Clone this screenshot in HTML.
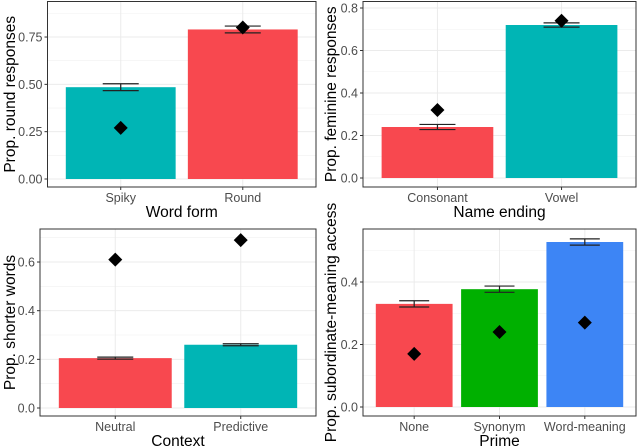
<!DOCTYPE html>
<html><head><meta charset="utf-8"><style>
html,body{margin:0;padding:0;background:#fff;}
svg{display:block;font-family:"Liberation Sans",sans-serif;}
</style></head><body>
<svg id="c" width="640" height="446"></svg>
<script>
const p1Cats=["Spiky","Round"], p1Vals=[0.485,0.79], p1Err=[0.018,0.018], p1Dia=[0.27,0.80];
const p2Cats=["Consonant","Vowel"], p2Vals=[0.24,0.72], p2Err=[0.012,0.01], p2Dia=[0.32,0.74];
const p3Cats=["Neutral","Predictive"], p3Vals=[0.205,0.26], p3Err=[0.004,0.004], p3Dia=[0.61,0.69];
const p4Cats=["None","Synonym","Word-meaning"], p4Vals=[0.33,0.377,0.528], p4Err=[0.01,0.01,0.01], p4Dia=[0.17,0.24,0.27];
const p1Ticks=[0,0.25,0.5,0.75], p1Labels=["0.00","0.25","0.50","0.75"];
const p2Ticks=[0,0.2,0.4,0.6,0.8], p2Labels=["0.0","0.2","0.4","0.6","0.8"];
const p3Ticks=[0,0.2,0.4,0.6], p3Labels=["0.0","0.2","0.4","0.6"];
const p4Ticks=[0,0.2,0.4], p4Labels=["0.0","0.2","0.4"];
const NS="http://www.w3.org/2000/svg";
const svg=document.getElementById('c');
function mk(t,a,parent){const e=document.createElementNS(NS,t);for(const k in a)e.setAttribute(k,a[k]);(parent||svg).appendChild(e);return e;}
function panel(o){
  const g=mk('g',{});
  
  
  const y=v=>o.y0-(v-0)*o.ppu;
  const n=o.cats.length, unit=(o.x1-o.x0)/(n-1+1.2), bw=unit*0.9;
  const xc=i=>o.x0+unit*(0.6+i);
  for(let i=0;i<o.ticks.length;i++){
    const m=o.ticks[i]+(o.ticks[1]-o.ticks[0])/2; const yy=y(m);
    if(yy>o.yt) mk('line',{x1:o.x0,x2:o.x1,y1:yy,y2:yy,stroke:'#f0f0f0','stroke-width':0.6},g);
  }
  o.ticks.forEach((t,i)=>{const yy=y(t);
    mk('line',{x1:o.x0,x2:o.x1,y1:yy,y2:yy,stroke:'#ebebeb','stroke-width':1},g);
    mk('line',{x1:o.x0-3,x2:o.x0,y1:yy,y2:yy,stroke:'#333','stroke-width':1},g);
    const tl=mk('text',{x:o.x0-5,y:yy+4.5,'text-anchor':'end','font-size':12.5,fill:'#4d4d4d'},g);tl.textContent=o.labels[i];
    
    
  });
  o.cats.forEach((c,i)=>{const xx=xc(i);
    mk('line',{x1:xx,x2:xx,y1:o.yt,y2:o.yb,stroke:'#ebebeb','stroke-width':1},g);
  });
  o.cats.forEach((c,i)=>{const xx=xc(i);
    const r=mk('rect',{x:xx-bw/2,y:y(o.vals[i]),width:bw,height:y(0)-y(o.vals[i]),fill:o.colors[i]},g);
    
    
    const e1=y(o.vals[i]+o.err[i]), e2=y(o.vals[i]-o.err[i]);
    const ew=o.ew;
    const eb=mk('path',{d:`M${xx-ew},${e1}H${xx+ew}M${xx},${e1}V${e2}M${xx-ew},${e2}H${xx+ew}`,stroke:'#222',fill:'none','stroke-width':1.2},g);
    
    
    const dy=y(o.dia[i]);
    const d=mk('path',{d:`M${xx},${dy-7}L${xx+7},${dy}L${xx},${dy+7}L${xx-7},${dy}Z`,fill:'#000'},g);
    
    
    mk('line',{x1:xx,x2:xx,y1:o.yb,y2:o.yb+3,stroke:'#333'},g);
    const tl=mk('text',{x:xx,y:o.yb+15,'text-anchor':'middle','font-size':12.5,fill:'#4d4d4d'},g);tl.textContent=c;
    
    
  });
  mk('rect',{x:o.x0,y:o.yt,width:o.x1-o.x0,height:o.yb-o.yt,fill:'none',stroke:'#333','stroke-width':1},g);
  const xt=mk('text',{x:(o.x0+o.x1)/2,y:o.yb+30,'text-anchor':'middle','font-size':15.5,fill:'#000'},g);xt.textContent=o.xtitle;
  
  
  const cy=(o.yt+o.yb)/2;
  const yt=mk('text',{x:0,y:0,'text-anchor':'middle','font-size':15.5,fill:'#000',transform:`translate(${o.ytx},${cy}) rotate(-90)`},g);yt.textContent=o.ytitle;
  
  
}
const red='#f8484f', teal='#00b5b5', green='#00b000', blue='#3d85f5';
panel({name:'panel-word-form',cats:p1Cats,vals:p1Vals,err:p1Err,dia:p1Dia,ticks:p1Ticks,labels:p1Labels,colors:[teal,red],x0:47.5,x1:316,yt:1.5,yb:187,y0:179,ppu:189.3,ew:18,xtitle:'Word form',ytitle:'Prop. round responses',ytx:15});
panel({name:'panel-name-ending',cats:p2Cats,vals:p2Vals,err:p2Err,dia:p2Dia,ticks:p2Ticks,labels:p2Labels,colors:[red,teal],x0:363,x1:636,yt:1.5,yb:187,y0:178,ppu:212.5,ew:18,xtitle:'Name ending',ytitle:'Prop. feminine responses',ytx:336});
panel({name:'panel-context',cats:p3Cats,vals:p3Vals,err:p3Err,dia:p3Dia,ticks:p3Ticks,labels:p3Labels,colors:[red,teal],x0:40,x1:316,yt:229,yb:416,y0:408,ppu:243.3,ew:18,xtitle:'Context',ytitle:'Prop. shorter words',ytx:15});
panel({name:'panel-prime',cats:p4Cats,vals:p4Vals,err:p4Err,dia:p4Dia,ticks:p4Ticks,labels:p4Labels,colors:[red,green,blue],x0:363,x1:636,yt:229,yb:416,y0:407,ppu:312.5,ew:15,xtitle:'Prime',ytitle:'Prop. subordinate-meaning access',ytx:336});
</script>
</body></html>
